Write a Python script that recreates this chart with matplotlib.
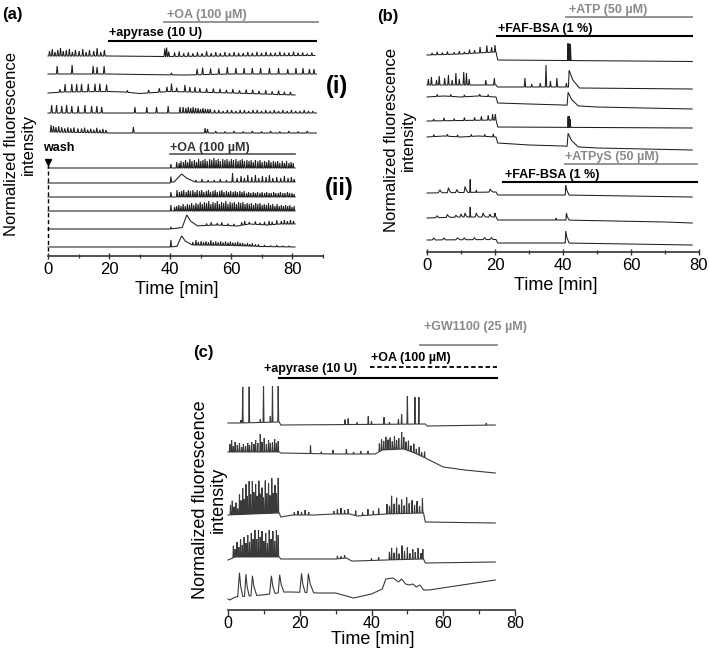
import numpy as np
import matplotlib
matplotlib.use('Agg')
import matplotlib.pyplot as plt

plt.rcParams['font.family'] = ['Liberation Sans', 'DejaVu Sans']

# ---------------- DATA ----------------
# each trace: baseline knots (time [min], level), spikes (time, height), broad events (time, height, rise, fall)
ticks_main = [0, 20, 40, 60, 80]

# treatments
a_oa_top = (38, 88.5); a_apyrase = (20, 88); a_oa_wash = (40, 81)
b_atp = (41, 78); b_bsa1 = (20.5, 78); b_atpys = (40.6, 79.4); b_bsa2 = (22.4, 79.4)
c_gw = (53.5, 75); c_oa = (39.5, 75); c_apyrase = (14.3, 75)

# ---- panel (a) (i)
a1_base = [(0, 0), (20, 0), (38, -0.5), (60, 0), (87.5, 0.5)]
a1_spk = [(0.5, 5), (1.4, 7), (2.3, 4), (3.2, 6), (4.1, 8), (5.0, 5), (6.0, 6), (7.0, 7), (8.0, 4), (9.0, 6),
          (10.2, 5), (11.4, 7), (12.5, 4), (13.6, 6), (15.0, 5), (16.1, 8), (17.3, 4), (18.5, 6), (38.3, 8),
          (38.9, 9), (39.6, 5), (41.5, 4), (43.0, 5), (44.5, 3), (46.0, 4), (47.5, 3), (49.0, 4), (50.5, 3),
          (52.0, 5), (53.5, 3), (55.0, 4), (56.5, 3), (58.0, 4), (59.5, 3), (61.0, 4), (62.5, 3), (64.0, 3),
          (65.5, 4), (67.0, 3), (68.5, 4), (70.0, 3), (71.5, 4), (73.0, 3), (74.5, 3), (76.0, 4), (77.5, 3),
          (79.0, 3), (80.5, 4), (82.0, 3), (83.5, 3), (85.0, 2), (86.5, 3)]
a2_base = [(0, 0), (20, 0), (30, -0.5), (45, -1), (60, 0), (88, 0)]
a2_spk = [(3.0, 8), (7.9, 9), (14.8, 8), (16.1, 7), (18.4, 8), (40.5, 2), (48.9, 6), (50.7, 7), (53.3, 6),
          (56.0, 6), (58.8, 7), (61.6, 6), (64.3, 6), (67.0, 6), (69.7, 6), (72.6, 6), (75.6, 6), (78.6, 5),
          (81.3, 6), (83.6, 6), (85.7, 5), (87.2, 5)]
a3_base = [(0, 0), (5, 1), (20, 1.5), (25, 1), (30, -0.5), (35, 0.5), (40, 1.5), (60, 0), (81, -2)]
a3_spk = [(3.9, 3), (5.6, 8), (7.8, 8), (9.4, 8), (11.0, 8), (13.2, 8), (15.4, 8), (17.0, 8), (19.2, 7),
          (26.0, 2), (33.0, 3), (36.5, 4), (39.0, 5), (40.5, 8), (42.2, 4), (44.9, 7), (46.5, 5), (48.2, 5),
          (49.8, 4), (52.0, 4), (54.2, 4), (56.4, 4), (58.5, 3), (60.6, 4), (62.8, 3), (65.0, 4), (67.1, 4),
          (69.2, 3), (71.4, 4), (73.5, 3), (75.6, 4), (77.5, 3), (79.5, 3)]
a4_base = [(0, 0), (40, 0), (88, 0)]
a4_spk = [(1.2, 8), (2.8, 8), (4.5, 7), (6.1, 8), (7.8, 7), (9.9, 7), (12.1, 8), (14.3, 7), (16.0, 7),
          (17.6, 6), (28.5, 6), (32.4, 6), (35.6, 6), (39.4, 7), (43.3, 6), (44.3, 6), (45.2, 5), (46.0, 6),
          (46.8, 5), (47.6, 6), (48.4, 5), (49.2, 5), (50.0, 4), (50.8, 5), (51.6, 4), (52.4, 4), (53.2, 4),
          (54.6, 3), (56.0, 3), (57.4, 2), (58.8, 3), (60.2, 3), (61.6, 2), (63.0, 3), (64.4, 3), (65.8, 2),
          (67.2, 3), (68.6, 3), (70.0, 2), (71.4, 3), (72.8, 2), (74.2, 3), (75.6, 2), (77.0, 3), (78.4, 2),
          (79.8, 3), (81.2, 2), (82.6, 2), (84.0, 3), (85.4, 2), (86.8, 2)]
a5_base = [(0.7, 1), (20, 0), (88, 0)]
a5_spk = [(1.0, 7), (1.8, 6), (2.6, 5), (3.5, 6), (4.5, 5), (5.5, 4), (6.5, 5), (7.5, 4), (8.5, 5), (9.8, 4),
          (11.0, 4), (12.0, 5), (13.0, 3), (14.0, 4), (15.0, 3), (16.0, 5), (17.0, 3), (18.0, 4), (19.0, 3),
          (28.0, 6), (51.5, 5), (52.3, 4), (55, 2), (58, 1.5), (61, 2), (64, 1.5), (67, 2), (70, 1.5),
          (73, 2), (76, 1.5), (79, 2), (82, 1.5), (85, 2)]

# ---- panel (a) (ii)
ii1_base = [(0, 0), (40, 0), (81, 0)]
ii1_spk = [(40.3, 4), (42.2, 6), (43.0, 5), (43.6, 7), (44.4, 6), (45.1, 8), (45.8, 6), (46.5, 9), (47.2, 7),
           (48.0, 8), (48.7, 6), (49.4, 9), (50.1, 7), (50.8, 8), (51.5, 9), (52.2, 7), (53.0, 9), (53.7, 8),
           (54.4, 10), (55.1, 8), (55.8, 9), (56.5, 7), (57.3, 9), (58.0, 8), (58.7, 9), (59.4, 7), (60.1, 9),
           (60.8, 8), (61.6, 9), (62.3, 7), (63.0, 8), (63.7, 9), (64.4, 7), (65.2, 8), (65.9, 7), (66.6, 8),
           (67.3, 6), (68.0, 8), (68.8, 7), (69.5, 8), (70.2, 6), (71.0, 7), (71.7, 6), (72.4, 8), (73.1, 6),
           (73.9, 7), (74.6, 6), (75.3, 7), (76.0, 5), (76.8, 7), (77.5, 5), (78.2, 7), (79.0, 5), (79.7, 6),
           (80.4, 5)]
ii2_base = [(0, 0), (40, 0), (40.6, 1), (60, 1), (81, 1)]
ii2_spk = [(40.3, 6), (48.5, 2), (50.5, 3), (52.5, 2), (54.5, 2), (56.5, 3), (58.5, 2), (60.5, 9), (62.0, 4),
           (63.3, 6), (64.4, 4), (65.5, 7), (66.8, 5), (68.0, 7), (69.1, 4), (70.3, 6), (71.5, 5), (72.6, 7),
           (73.7, 4), (75.0, 5), (76.3, 4), (77.5, 6), (78.7, 4), (79.8, 5), (80.7, 3)]
ii2_bump = [(43.8, 8, 2.5, 5)]
ii3_base = [(0, 0), (40, 0), (81, 0)]
ii3_spk = [(40.3, 5), (42.3, 7), (43.1, 5), (43.8, 6), (44.5, 7), (45.3, 5), (46.0, 7), (46.7, 6), (47.5, 7),
           (48.2, 5), (48.9, 7), (49.7, 6), (50.4, 7), (51.1, 5), (51.9, 6), (52.6, 7), (53.3, 5), (54.1, 6),
           (54.8, 7), (55.5, 5), (56.3, 6), (57.0, 7), (57.7, 5), (58.5, 6), (59.2, 5), (59.9, 6), (60.7, 5),
           (61.4, 6), (62.1, 5), (62.9, 6), (63.6, 5), (64.3, 6), (65.1, 4), (65.8, 5), (66.5, 4), (67.3, 5),
           (68.0, 4), (68.7, 5), (69.5, 4), (70.2, 5), (71.0, 4), (71.7, 5), (72.5, 4), (73.2, 4), (74.0, 5),
           (74.7, 4), (75.5, 4), (76.2, 5), (77.0, 4), (77.7, 4), (78.5, 5), (79.2, 4), (80.0, 4), (80.7, 3)]
ii4_base = [(0, 0), (40, 0), (81, 0)]
ii4_spk = [(40.3, 6), (41.5, 4), (42.2, 5), (42.9, 6), (43.6, 5), (44.3, 7), (45.0, 5), (45.7, 7), (46.4, 6),
           (47.1, 8), (47.8, 6), (48.5, 8), (49.2, 7), (49.9, 9), (50.6, 7), (51.3, 9), (52.0, 8), (52.7, 10),
           (53.4, 7), (54.1, 9), (54.8, 8), (55.5, 10), (56.2, 7), (56.9, 9), (57.6, 8), (58.3, 10), (59.0, 7),
           (59.7, 9), (60.4, 8), (61.1, 9), (61.8, 7), (62.5, 9), (63.2, 8), (63.9, 9), (64.6, 7), (65.3, 8),
           (66.0, 7), (66.7, 8), (67.4, 6), (68.1, 8), (68.8, 7), (69.5, 8), (70.2, 6), (70.9, 7), (71.6, 6),
           (72.3, 8), (73.0, 6), (73.7, 7), (74.4, 5), (75.1, 7), (75.8, 5), (76.5, 6), (77.2, 5), (77.9, 6),
           (78.6, 5), (79.3, 6), (80.0, 4), (80.7, 5)]
ii5_base = [(0, 0), (40, 0), (48, 3), (55, 4), (62, 3), (66, 5), (72, 4), (76, 5), (81, 5)]
ii5_spk = [(40.3, 2), (52.0, 2), (53.5, 3), (55.5, 2), (57.0, 3), (59.0, 2), (61.0, 2), (63.5, 3), (64.5, 4),
           (66.0, 2), (68.0, 3), (69.5, 2), (71.0, 3), (72.5, 4), (73.5, 3), (75.0, 4), (76.5, 3), (77.5, 4),
           (78.5, 3), (79.5, 4), (80.5, 3)]
ii5_bump = [(45.5, 12, 1.5, 3.5)]
ii6_base = [(0, 0), (40, 0), (47, 2), (60, 1.5), (70, 0.5), (81, 0)]
ii6_spk = [(40.3, 7), (47.5, 3), (48.5, 5), (49.3, 3), (50.2, 4), (51.0, 3), (51.8, 4), (52.6, 3), (53.4, 5),
           (54.2, 3), (55.0, 4), (55.8, 3), (56.6, 4), (57.4, 3), (58.2, 4), (59.0, 3), (59.8, 4), (60.6, 3),
           (61.4, 3), (62.2, 4), (63.0, 3), (63.8, 3), (64.6, 2), (65.4, 3), (66.2, 2), (67.0, 3), (68.0, 2),
           (69.0, 2), (71, 1.5), (73, 1), (75, 1.5), (77, 1), (79, 1)]
ii6_bump = [(43.8, 10, 1.5, 3.5)]

# ---- panel (b), ATP
b1_base = [(0, 0), (10, 1), (15, 2), (20.3, 3), (20.8, -5), (40, -5.5), (60, -6), (78, -6.5)]
b1_spk = [(1.5, 2), (3.0, 3), (4.5, 2), (6.0, 3), (8.0, 2), (9.5, 3), (11.0, 2), (12.5, 4), (14.0, 3),
          (15.6, 6), (17.6, 7), (19.0, 5), (20.0, 7)]
b1_bump = [(41.4, 17, 0.08, 0.08), (41.6, 13, 0.08, 0.08), (41.8, 17, 0.08, 0.08), (42.0, 13, 0.08, 0.08),
           (42.2, 16, 0.08, 0.2)]
b2_base = [(0, 0), (20.3, 0), (20.8, -2), (41, -2), (45, -3), (78, -4)]
b2_spk = [(0.4, 6), (1.3, 8), (2.8, 5), (3.6, 9), (5.2, 7), (6.3, 10), (7.4, 5), (8.5, 12), (9.5, 6),
          (10.8, 13), (11.6, 12), (12.4, 6), (17.3, 5), (19.8, 7), (28.8, 9), (30.8, 3), (33.3, 4), (35.0, 22),
          (36.3, 6), (38.2, 9), (41.0, 4)]
b2_bump = [(41.8, 17, 0.2, 3)]
b3_base = [(0, 0), (5, 1), (10, 0), (15, 1), (20.3, 0), (20.8, -6), (30, -7), (40, -8), (50, -10), (78, -12)]
b3_spk = [(3, 2), (7, 2), (11, 2), (15.5, 2), (18, 2)]
b3_bump = [(41.5, 13, 0.3, 3)]
b4_base = [(0, 0), (20.3, 1), (20.8, -6), (78, -7)]
b4_spk = [(2, 2), (5, 3), (8, 2), (11, 3), (14, 3), (16, 4), (18, 5), (19.3, 6), (20.1, 6)]
b4_bump = [(41.5, 11, 0.08, 0.08), (41.7, 8, 0.08, 0.08), (41.9, 11, 0.08, 0.08), (42.1, 8, 0.08, 0.2)]
b5_base = [(0, 0), (5, 1), (10, 0), (15, 1), (20.3, 0), (20.8, -6), (30, -8), (40, -9), (50, -11), (78, -13)]
b5_spk = [(2, 2), (6, 2), (9, 2), (13, 2), (17, 2), (19.5, 3)]
b5_bump = [(41.5, 13, 0.3, 3)]

# ---- panel (b), ATPyS
b6_base = [(0, 0), (20.3, 1), (20.8, -2), (40.5, -2), (78, -4)]
b6_spk = [(12.7, 13), (14.5, 2)]
b6_bump = [(3.8, 3, 0.5, 0.7), (6.3, 5, 0.3, 0.8), (8.8, 3, 0.4, 0.6), (11.2, 6, 0.3, 0.8), (18.6, 3, 0.4, 0.8),
           (40.8, 10, 0.15, 1.0)]
b7_base = [(0, 0), (10, 1), (20.3, 1), (20.8, -2), (40, -2), (70, -4), (78, -5)]
b7_spk = [(12.7, 10), (38, 2)]
b7_bump = [(3, 2, 0.4, 0.6), (6, 3, 0.3, 0.8), (8.5, 2, 0.3, 0.6), (10, 3, 0.3, 0.6), (11.2, 4, 0.3, 0.6),
           (14.5, 4, 0.3, 0.7), (16.5, 4, 0.3, 0.7), (18.5, 3, 0.3, 0.6), (20, 4, 0.2, 0.3), (41, 7, 0.15, 0.8)]
b8_base = [(0, 0), (20.3, 0.5), (20.8, -3), (40.5, -3), (78, -5)]
b8_spk = []
b8_bump = [(2, 2, 0.5, 0.5), (5, 2, 0.5, 0.5), (9, 2, 0.5, 0.8), (11, 2, 0.5, 0.5), (14, 2, 0.5, 0.5),
           (17, 2, 0.5, 0.5), (19, 2, 0.5, 0.5), (40.8, 12, 0.15, 1.0)]

# ---- panel (c)
c1_base = [(0, 0), (3, 0), (14.3, 1), (14.7, -2), (55, -1), (55.5, -3), (74.5, -2)]
c1_spk = [(3.6, 3), (4.1, 36), (5.9, 36), (9.0, 3), (9.9, 36), (11.8, 6), (12.4, 36), (14.0, 36), (32.6, 5),
          (33.5, 6), (36.0, 2), (39.1, 8), (40.0, 3), (43.5, 7), (45.0, 2), (47.5, 5), (48.4, 10), (50.0, 28),
          (52.1, 27), (53.2, 27), (72.0, 2)]
c2_base = [(0, 0), (14.3, 0), (14.7, -1), (30, -2), (41, -2), (43, 2), (49, 3), (52, -1), (55, -6), (60, -15),
           (66, -18), (74.5, -21)]
c2_spk = [(0.5, 8), (1.0, 12), (1.5, 6), (2.0, 10), (2.6, 7), (3.2, 9), (3.8, 5), (4.3, 8), (4.9, 6), (5.5, 9),
          (6.0, 7), (6.6, 10), (7.2, 8), (7.7, 12), (8.3, 9), (9.0, 18), (9.5, 10), (10.1, 14), (10.7, 8),
          (11.3, 12), (11.8, 9), (12.4, 10), (13.0, 13), (13.5, 9), (14.0, 11), (23.0, 8), (26.0, 2), (29.3, 4),
          (33.0, 5), (35.0, 2), (37.0, 3), (39.0, 3), (42.2, 8), (42.8, 11), (43.4, 9), (44.0, 13), (44.6, 10),
          (45.2, 12), (45.8, 8), (46.4, 13), (47.0, 9), (47.6, 11), (48.4, 17), (49.0, 12), (49.6, 8),
          (50.3, 10), (51.0, 6), (51.8, 9), (52.5, 5), (53.3, 8), (54.0, 4), (54.8, 6)]
c3_base = [(0, 0), (14.3, 2), (14.7, -2), (18, 0), (24, 0), (29, 1), (34, 1), (36, -1), (44, 1), (54.5, 2),
           (55, -7), (74.5, -8)]
c3_spk = [(0.7, 10), (1.2, 14), (1.7, 8), (2.2, 12), (2.7, 6), (3.2, 20), (3.6, 14), (4.1, 26), (4.5, 15),
          (5.0, 30), (5.4, 18), (5.9, 33), (6.3, 20), (6.8, 33), (7.2, 22), (7.7, 30), (8.1, 18), (8.6, 33),
          (9.0, 20), (9.5, 26), (9.9, 16), (10.4, 33), (10.8, 20), (11.3, 30), (11.7, 18), (12.2, 35),
          (12.6, 20), (13.1, 28), (13.5, 20), (14.0, 35), (18.5, 3), (19.5, 4), (20.5, 3), (21.5, 5), (22.5, 3),
          (29.5, 3), (30.5, 5), (31.5, 6), (32.5, 4), (33.5, 5), (35.6, 5), (37.5, 3), (39.0, 6), (40.5, 4),
          (42.0, 6), (44.3, 10), (45.0, 8), (45.6, 18), (46.3, 10), (47.0, 16), (47.7, 9), (48.4, 14),
          (49.1, 8), (49.8, 16), (50.5, 10), (51.3, 13), (52.0, 8), (52.7, 12), (53.4, 7), (54.2, 15)]
c4_base = [(0, 0), (2, 3), (14.3, 3), (14.7, 1), (30, 1), (33, 2), (34.5, -1), (35.5, -1), (44, 0), (54.5, 1),
           (55, -3), (74.5, -2)]
c4_spk = [(1.5, 12), (2.0, 8), (2.5, 15), (3.0, 10), (3.5, 18), (4.0, 12), (4.5, 20), (5.0, 14), (5.5, 22),
          (6.0, 15), (6.5, 24), (7.0, 18), (7.5, 27), (8.0, 18), (8.5, 27), (9.0, 20), (9.5, 26), (10.0, 16),
          (10.5, 24), (11.0, 14), (11.5, 27), (12.0, 18), (12.5, 26), (13.0, 16), (13.5, 27), (14.0, 22),
          (30.5, 3), (31.5, 2), (32.5, 3), (40.0, 2), (42.0, 3), (45.0, 8), (45.6, 12), (46.3, 7), (47.0, 12),
          (47.7, 6), (48.5, 14), (49.2, 8), (50.0, 12), (50.7, 6), (51.5, 10), (52.2, 7), (53.0, 11), (53.8, 6),
          (54.3, 10)]
c5_base = [(0, -2), (0.5, -3), (2, 0), (9.5, 2), (16, 5), (18, 5), (25, 4), (30, 4), (35, -1), (40, 3), (43, 8),
           (44, 18), (46, 19), (47.5, 15), (48.4, 18), (49.5, 13), (50.5, 12), (51.5, 13), (52.5, 10),
           (53.5, 12), (54.5, 7), (56, 7), (74.5, 17)]
c5_spk = []
c5_bump = [(3.2, 24, 0.5, 0.9), (5.0, 22, 0.4, 0.9), (6.8, 20, 0.4, 1.2), (12.1, 18, 0.5, 1.0),
           (14.4, 18, 0.4, 1.2), (20.5, 19, 0.5, 1.0), (22.4, 19, 0.4, 1.5)]

# ---------------- FIGURE ----------------
W, H = 709, 652
fig = plt.figure(figsize=(W / 100, H / 100), dpi=100)


def build(base, spk, bumps, w):
    bt = np.array([p[0] for p in base], float)
    bv = np.array([p[1] for p in base], float)
    ev = []
    for t, h in spk:
        ev.append([(t - w, 0.0), (t, h), (t + w, 0.0)])
    for t, h, r, f in bumps:
        ev.append([(t - r, 0.0), (t, h), (t + 0.35 * f, 0.45 * h), (t + f, 0.0)])
    wins = [(e[0][0], e[-1][0]) for e in ev]
    pts = [(t, v) for t, v in zip(bt, bv) if not any(a < t < b for a, b in wins)]
    for e in ev:
        for t, dv in e:
            pts.append((t, np.interp(t, bt, bv) + dv))
    pts.sort(key=lambda p: p[0])
    arr = np.array(pts)
    m = (arr[:, 0] >= bt[0]) & (arr[:, 0] <= bt[-1])
    return arr[m, 0], arr[m, 1]


def draw(ax, offset, base, spk=(), bumps=(), w=0.2, color='#1e1e1e', lw=0.75):
    t, v = build(base, spk, bumps, w)
    ax.plot(t, offset - v, color=color, lw=lw, solid_joinstyle='miter')


def make_ax(x0, x1, rt, rb, t0px, ppm, bounds, minor, tdir, lsize=12, pad=2, tlen=5):
    ax = fig.add_axes([x0 / W, 1 - rb / H, (x1 - x0) / W, (rb - rt) / H])
    ax.set_xlim((x0 - t0px) / ppm, (x1 - t0px) / ppm)
    ax.set_ylim(rb, rt)
    ax.patch.set_alpha(0)
    for s in ['left', 'top', 'right']:
        ax.spines[s].set_visible(False)
    ax.spines['bottom'].set_bounds(*bounds)
    ax.spines['bottom'].set_color('#333333')
    ax.spines['bottom'].set_linewidth(1.2)
    ax.set_yticks([])
    ax.set_xticks(ticks_main)
    ax.set_xticks(minor, minor=True)
    ax.tick_params(axis='x', which='major', direction=tdir, length=tlen, width=1.0, color='#333333',
                   labelsize=lsize, pad=pad)
    ax.tick_params(axis='x', which='minor', direction=tdir, length=3, width=0.9, color='#333333')
    return ax


def ftext(x, row, s, **kw):
    fig.text(x / W, 1 - row / H, s, **kw)


GRAY = '#8a8a8a'
bold9 = dict(fontsize=9, fontweight='bold', ha='center', va='center')

# ---------- panel (a)
axa = make_ax(30, 330, 5, 256, 48, 3.05, (0, 90), [10, 30, 50, 70, 90], 'inout')
for off, base, spk in [(56, a1_base, a1_spk), (74, a2_base, a2_spk), (93, a3_base, a3_spk),
                       (113, a4_base, a4_spk), (133, a5_base, a5_spk)]:
    draw(axa, off, base, spk, w=0.25)
draw(axa, 168, ii1_base, ii1_spk, w=0.2)
draw(axa, 183, ii2_base, ii2_spk, ii2_bump, w=0.2)
draw(axa, 197, ii3_base, ii3_spk, w=0.2)
draw(axa, 211, ii4_base, ii4_spk, w=0.2)
draw(axa, 229, ii5_base, ii5_spk, ii5_bump, w=0.2)
draw(axa, 247, ii6_base, ii6_spk, ii6_bump, w=0.2)

axa.text(52, 15, '+OA (100 µM)', color=GRAY, **bold9)
axa.plot(a_oa_top, [22, 22], color=GRAY, lw=1.3, clip_on=False)
axa.text(35.4, 33, '+apyrase (10 U)', color='black', **bold9)
axa.plot(a_apyrase, [41, 41], color='black', lw=1.5, clip_on=False)
axa.text(-1.7, 148, 'wash', color='black', fontsize=9, fontweight='bold', ha='left', va='center')
axa.plot([0], [162], marker='v', color='black', ms=5, clip_on=False)
axa.plot([0, 0], [164, 251], color='black', lw=1.0, ls=(0, (3, 2)))
axa.text(53, 148, '+OA (100 µM)', color='#333333', **bold9)
axa.plot(a_oa_wash, [154, 154], color='#555555', lw=1.2)

ftext(337, 87, '(i)', fontsize=17, fontweight='bold', ha='center', va='center')
ftext(339, 188, '(ii)', fontsize=17, fontweight='bold', ha='center', va='center')
ftext(2, 15, '(a)', fontsize=12, fontweight='bold', ha='left', va='center')
ftext(20, 144, 'Normalized fluorescence\nintensity', fontsize=12, rotation=90, ha='center', va='center',
      linespacing=1.1, multialignment='center')
ftext(177, 290, 'Time [min]', fontsize=13, ha='center', va='center')

# ---------- panel (b)
axb = make_ax(410, 705, 5, 252, 427, 3.4, (0, 80), [10, 30, 50, 70], 'inout')
draw(axb, 55, b1_base, b1_spk, b1_bump)
draw(axb, 85, b2_base, b2_spk, b2_bump)
draw(axb, 97, b3_base, b3_spk, b3_bump)
draw(axb, 121, b4_base, b4_spk, b4_bump)
draw(axb, 137, b5_base, b5_spk, b5_bump)
draw(axb, 193, b6_base, b6_spk, b6_bump, w=0.15)
draw(axb, 218, b7_base, b7_spk, b7_bump, w=0.15)
draw(axb, 240, b8_base, b8_spk, b8_bump, w=0.15)

axb.text(53.4, 10, '+ATP (50 µM)', color=GRAY, **bold9)
axb.plot(b_atp, [17, 17], color=GRAY, lw=1.3, clip_on=False)
axb.text(34.7, 29, '+FAF-BSA (1 %)', color='black', **bold9)
axb.plot(b_bsa1, [36, 36], color='black', lw=1.5, clip_on=False)
axb.text(54.4, 157, '+ATPyS (50 µM)', color=GRAY, **bold9)
axb.plot(b_atpys, [164, 164], color=GRAY, lw=1.3, clip_on=False)
axb.text(36.8, 175, '+FAF-BSA (1 %)', color='black', **bold9)
axb.plot(b_bsa2, [182, 182], color='black', lw=1.5, clip_on=False)

ftext(377, 17, '(b)', fontsize=12, fontweight='bold', ha='left', va='center')
ftext(400, 140, 'Normalized fluorescence\nintensity', fontsize=12, rotation=90, ha='center', va='center',
      linespacing=1.1, multialignment='center')
ftext(556, 285, 'Time [min]', fontsize=13, ha='center', va='center')

# ---------- panel (c)
axc = make_ax(210, 520, 320, 610, 228, 3.5875, (0, 80), [10, 30, 50, 70], 'out', lsize=11.5, pad=0.5, tlen=4)
ccol = '#3a3a3a'
draw(axc, 423, c1_base, c1_spk, w=0.12, color=ccol, lw=0.8)
draw(axc, 452, c2_base, c2_spk, w=0.12, color=ccol, lw=0.8)
draw(axc, 515, c3_base, c3_spk, w=0.12, color=ccol, lw=0.8)
draw(axc, 560, c4_base, c4_spk, w=0.12, color=ccol, lw=0.8)
draw(axc, 597, c5_base, c5_spk, c5_bump, w=0.12, color=ccol, lw=0.8)

axc.text(69.1, 327, '+GW1100 (25 µM)', color=GRAY, **bold9)
axc.plot(c_gw, [345, 345], color=GRAY, lw=1.3, clip_on=False)
axc.text(51.1, 358, '+OA (100 µM)', color='black', **bold9)
axc.plot(c_oa, [367, 367], color='black', lw=1.3, ls=(0, (2.5, 1.5)))
axc.text(22.9, 369, '+apyrase (10 U)', color='black', **bold9)
axc.plot(c_apyrase, [378, 378], color='black', lw=1.5)

ftext(193, 353, '(c)', fontsize=12, fontweight='bold', ha='left', va='center')
ftext(209, 500, 'Normalized fluorescence\nintensity', fontsize=13, rotation=90, ha='center', va='center',
      linespacing=1.05, multialignment='center')
ftext(373, 639, 'Time [min]', fontsize=13, ha='center', va='center')

fig.savefig('out.png', dpi=100)
